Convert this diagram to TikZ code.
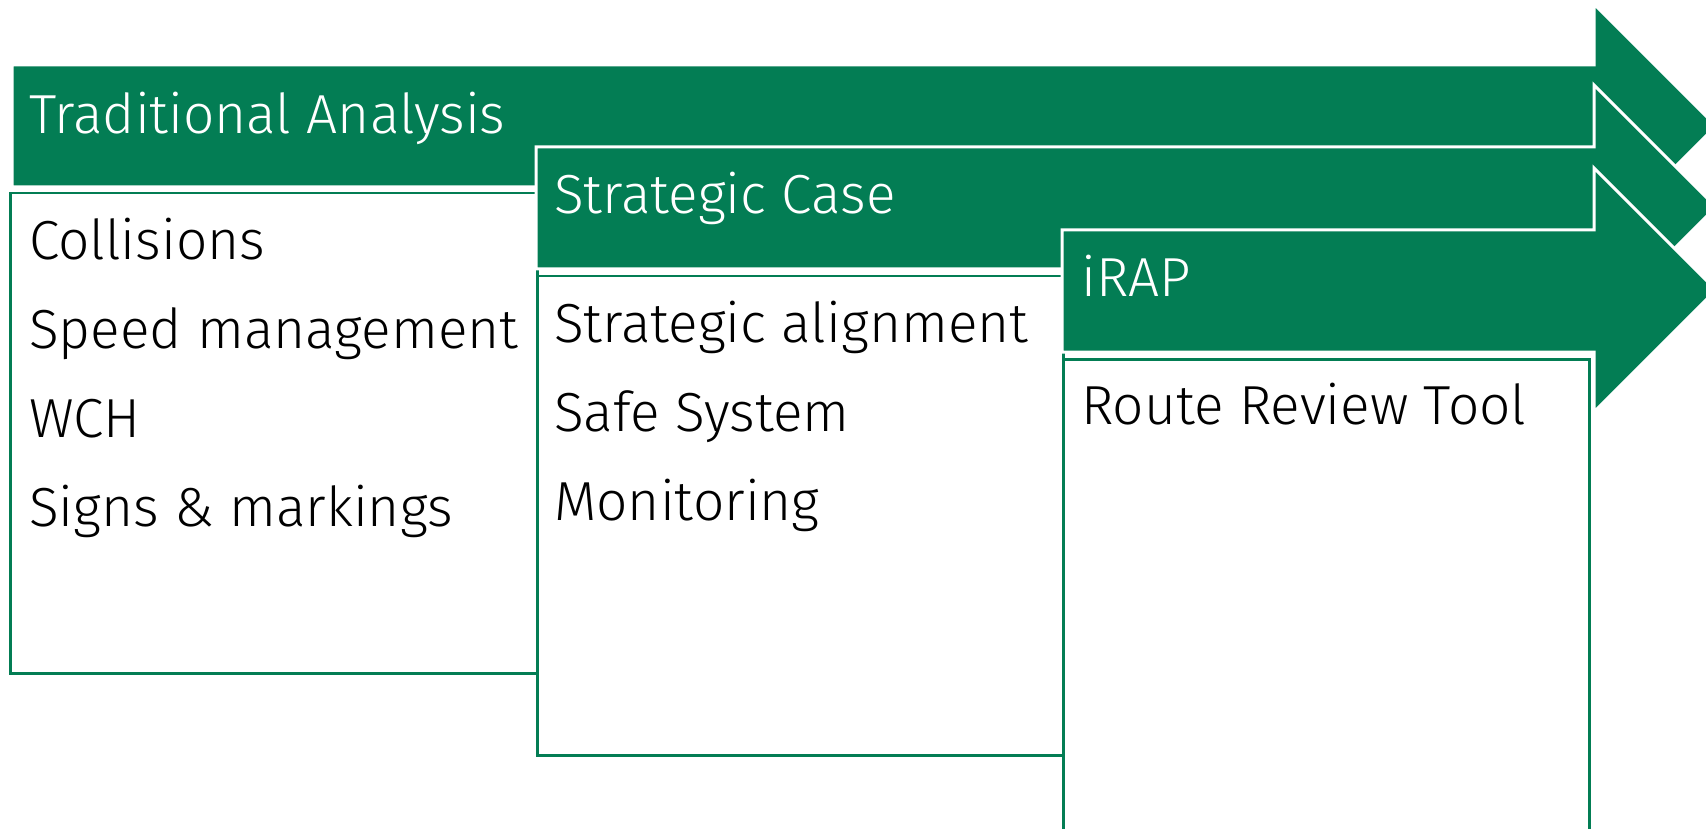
\documentclass[tikz,border=0pt]{standalone}
\usepackage{fontspec}
\setmainfont{Fira Sans Light}
\usepackage{xcolor}
\usepackage{tikz}

\definecolor{hegreen}{RGB}{3,125,84}

\tikzset{
  stagearrow/.style={fill=hegreen,draw=white,line width=3pt,line join=miter},
  itembox/.style={draw=hegreen,fill=white,line width=2.5pt,inner sep=0pt,anchor=north west},
  headtext/.style={text=white,inner sep=0pt,anchor=base west,font=\fontsize{55}{66}\selectfont},
  itemtext/.style={text=black,inner sep=0pt,anchor=base west,font=\fontsize{55}{66}\selectfont}
}

\begin{document}
\begin{tikzpicture}[x=1pt,y=-1pt]
\useasboundingbox (0,0) rectangle (1706,829);
% Traditional Analysis
\coordinate (tradarrow) at (12,65);
\filldraw[stagearrow] (tradarrow) -- (1594,65) -- (1594,4) -- (1716,126) -- (1594,248) -- (1594,187) -- (12,187) -- cycle;
\node[headtext] (tradhead) at ([xshift=17pt,yshift=-69pt]tradarrow) {Traditional Analysis};
\node[itembox,minimum width=527pt,minimum height=480pt] (tradbox) at (9,192) {};
\node[itemtext] (collisions) at ([xshift=20pt,yshift=-67pt]tradbox.north west) {Collisions};
\node[itemtext] (speed) at ([yshift=-89pt]collisions.base west) {Speed management};
\node[itemtext] (wch) at ([yshift=-89pt]speed.base west) {WCH};
\node[itemtext] (signs) at ([yshift=-89pt]wch.base west) {Signs \& markings};
% Strategic Case
\coordinate (stratarrow) at (536,147);
\filldraw[stagearrow] (stratarrow) -- (1594,147) -- (1594,85) -- (1716,207) -- (1594,329) -- (1594,269) -- (536,269) -- cycle;
\node[headtext] (strathead) at ([xshift=18pt,yshift=-67pt]stratarrow) {Strategic Case};
\node[itembox,minimum width=526pt,minimum height=479pt] (stratbox) at (536,275) {};
\node[itemtext] (alignment) at ([xshift=18pt,yshift=-67pt]stratbox.north west) {Strategic alignment};
\node[itemtext] (safesys) at ([yshift=-89pt]alignment.base west) {Safe System};
\node[itemtext] (monitoring) at ([yshift=-89pt]safesys.base west) {Monitoring};
% iRAP
\coordinate (iraparrow) at (1062,230);
\filldraw[stagearrow] (iraparrow) -- (1594,230) -- (1594,168) -- (1716,290) -- (1594,412) -- (1594,352) -- (1062,352) -- cycle;
\node[headtext] (iraphead) at ([xshift=19pt,yshift=-66pt]iraparrow) {iRAP};
\node[itembox,minimum width=526pt,minimum height=490pt] (irapbox) at (1062,358) {};
\node[itemtext] (routetool) at ([xshift=19pt,yshift=-66pt]irapbox.north west) {Route Review Tool};
\end{tikzpicture}
\end{document}
